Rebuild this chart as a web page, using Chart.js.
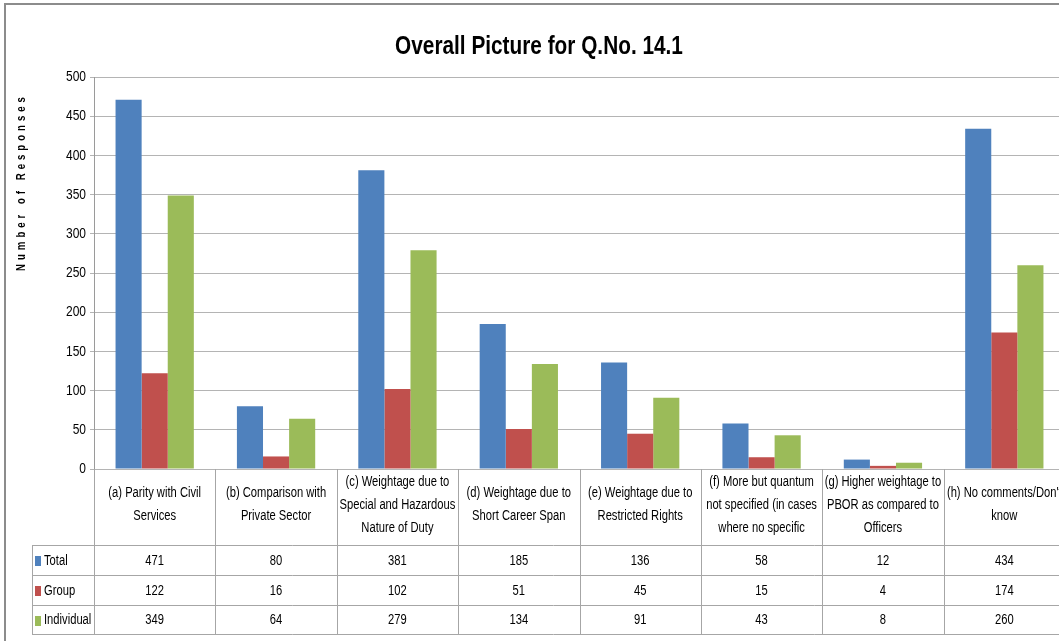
<!DOCTYPE html>
<html>
<head>
<meta charset="utf-8">
<script src="https://cdn.jsdelivr.net/npm/chart.js@4.4.1/dist/chart.umd.min.js"></script>
<style>
  html, body { margin: 0; padding: 0; background: #fff; overflow: hidden; }
  #wrap { position: relative; width: 1059px; height: 641px; overflow: hidden; }
  #chart { position: absolute; left: 0; top: 0; }
</style>
</head>
<body>
<div id="wrap"><canvas id="chart" width="1075" height="641"></canvas></div>
<script>
const chartTitle = 'Overall Picture for Q.No. 14.1';
const yAxisTitle = 'Number of Responses';
const categories = [
  ['(a) Parity with Civil', 'Services'],
  ['(b) Comparison with', 'Private Sector'],
  ['(c) Weightage due to', 'Special and Hazardous', 'Nature of Duty'],
  ['(d) Weightage due to', 'Short Career Span'],
  ['(e) Weightage due to', 'Restricted Rights'],
  ['(f) More but quantum', 'not specified (in cases', 'where no specific'],
  ['(g) Higher weightage to', 'PBOR as compared to', 'Officers'],
  ['(h) No comments/Don\'t', 'know']
];
const seriesNames = ['Total', 'Group', 'Individual'];
const totalValues = [471, 80, 381, 185, 136, 58, 12, 434];
const groupValues = [122, 16, 102, 51, 45, 15, 4, 174];
const individualValues = [349, 64, 279, 134, 91, 43, 8, 260];
const seriesColors = ['#4F81BD', '#C0504D', '#9BBB59'];

// no Arial Narrow available: squeeze Liberation Sans horizontally
const FONT = '"Liberation Sans", Arial, sans-serif';
const SQUEEZE = 0.8;
const LINE = '#a6a6a6';

function narrowText(ctx, text, x, y, align) {
  ctx.save();
  ctx.translate(x, y);
  ctx.scale(SQUEEZE, 1);
  ctx.textAlign = align || 'center';
  ctx.fillText(text, 0, 0);
  ctx.restore();
}

const tablePlugin = {
  id: 'tablePlugin',
  afterDraw(chart) {
    const ctx = chart.ctx;
    const area = chart.chartArea;
    const x = chart.scales.x;
    const y = chart.scales.y;
    const n = chart.data.labels.length;
    const colW = (area.right - area.left) / n;
    const top = area.bottom;
    const rowTops = [545, 575, 605, 634];
    const legendLeft = 32;
    ctx.save();

    // outer frame
    ctx.strokeStyle = '#8c8c8c';
    ctx.lineWidth = 2;
    ctx.beginPath();
    ctx.moveTo(5, 641); ctx.lineTo(5, 4); ctx.lineTo(chart.width, 4);
    ctx.stroke();

    ctx.fillStyle = '#000';
    ctx.textBaseline = 'middle';

    // title
    ctx.font = 'bold 26px ' + FONT;
    narrowText(ctx, chartTitle, 539, 47);

    // y tick labels
    ctx.font = '15px ' + FONT;
    y.ticks.forEach(t => narrowText(ctx, String(t.value), 86, y.getPixelForValue(t.value), 'right'));

    // y axis title
    ctx.save();
    ctx.translate(22, 182);
    ctx.rotate(-Math.PI / 2);
    ctx.font = 'bold 12px ' + FONT;
    ctx.letterSpacing = '5px';
    narrowText(ctx, yAxisTitle, 0, 0);
    ctx.restore();

    // table lines
    ctx.strokeStyle = LINE;
    ctx.lineWidth = 1;
    ctx.beginPath();
    for (let i = 0; i <= n; i++) {
      const bx = Math.round(area.left + i * colW) + 0.5;
      ctx.moveTo(bx, top); ctx.lineTo(bx, rowTops[3]);
    }
    rowTops.forEach(ry => { ctx.moveTo(legendLeft, ry + 0.5); ctx.lineTo(chart.width, ry + 0.5); });
    ctx.moveTo(legendLeft + 0.5, rowTops[0]); ctx.lineTo(legendLeft + 0.5, rowTops[3]);
    ctx.stroke();

    // header labels
    ctx.font = '14px ' + FONT;
    const lh = 23;
    chart.data.labels.forEach((lines, i) => {
      const cx = x.getPixelForValue(i);
      const y0 = 505 - (lines.length - 1) * lh / 2;
      lines.forEach((t, k) => narrowText(ctx, t, cx, y0 + k * lh));
    });

    // data rows
    chart.data.datasets.forEach((ds, r) => {
      const cy = (rowTops[r] + rowTops[r + 1]) / 2 + 1;
      ds.data.forEach((v, i) => narrowText(ctx, String(v), x.getPixelForValue(i), cy));
      ctx.fillStyle = ds.backgroundColor;
      ctx.fillRect(35, Math.round(cy - 5), 6, 10);
      ctx.fillStyle = '#000';
      narrowText(ctx, ds.label, 44, cy, 'left');
    });
    ctx.restore();
  }
};

new Chart(document.getElementById('chart'), {
  type: 'bar',
  data: {
    labels: categories,
    datasets: [
      { label: seriesNames[0], data: totalValues, backgroundColor: seriesColors[0] },
      { label: seriesNames[1], data: groupValues, backgroundColor: seriesColors[1] },
      { label: seriesNames[2], data: individualValues, backgroundColor: seriesColors[2] }
    ]
  },
  options: {
    responsive: false,
    animation: false,
    layout: { padding: { top: 77, bottom: 172, left: 0, right: 10 } },
    datasets: { bar: { categoryPercentage: 0.645, barPercentage: 1 } },
    plugins: { legend: { display: false }, title: { display: false }, tooltip: { enabled: false } },
    scales: {
      x: { display: false },
      y: {
        min: 0, max: 500,
        ticks: { stepSize: 50, display: false },
        grid: { color: '#b4b4b4', tickLength: 4 },
        border: { color: '#9a9a9a' },
        afterFit(scale) { scale.width = 94; }
      }
    }
  },
  plugins: [tablePlugin]
});
</script>
</body>
</html>
